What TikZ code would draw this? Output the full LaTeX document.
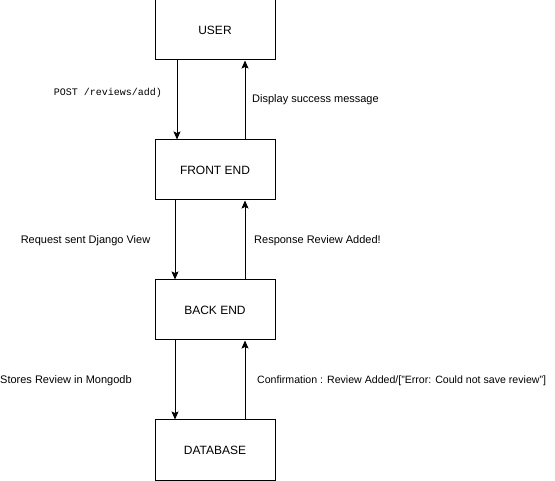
\documentclass[tikz,border=0pt]{standalone}
\usepackage{fontspec}
\setmainfont{Liberation Sans}
\setmonofont{Liberation Mono}
\usetikzlibrary{arrows.meta}

\tikzset{
	layer/.style={draw, line width=1pt, minimum width=120pt, minimum height=60pt, font=\fontsize{12}{14}\selectfont},
	flow/.style={line width=1pt, -{Stealth[length=8pt, width=7pt, inset=1.5pt]}},
	msg/.style={font=\fontsize{11}{13}\selectfont, inner sep=0pt}
}

\begin{document}
\begin{tikzpicture}[x=1pt, y=-1pt]
	\useasboundingbox (0, 0) rectangle (555, 481);
	\foreach \name/\txt [count=\i] in {user/USER, front/FRONT END, back/BACK END, db/DATABASE} {
		\node [layer] (\name) at (215, 30+140*\i-140) {\txt};
	}
	% requests going down, replies going up
	\draw [flow] ([xshift=-38pt]user.south) -- ([xshift=-38pt]front.north);
	\draw [flow] ([xshift=30pt]front.north) -- ([xshift=30pt]user.south);
	\draw [flow] ([xshift=-40pt]front.south) -- ([xshift=-40pt]back.north);
	\draw [flow] ([xshift=30pt]back.north) -- ([xshift=30pt]front.south);
	\draw [flow] ([xshift=-40pt]back.south) -- ([xshift=-40pt]db.north);
	\draw [flow] ([xshift=30pt]db.north) -- ([xshift=30pt]back.south);

	\node [msg, font=\ttfamily\fontsize{10}{12}\selectfont] (post) at (108, 93) {POST /reviews/add)};
	\node [msg, anchor=west] (display) at (252, 100) {Display success message};
	\node [msg] (request) at (85.5, 241) {Request sent Django View};
	\node [msg, anchor=west] (response) at (254, 241) {Response Review Added!};
	\node [msg, anchor=west] (stores) at (0, 381) {Stores Review in Mongodb};
	\node [msg, anchor=west, font=\fontsize{10.6}{13}\selectfont] (confirm) at (257, 381) {Confirmation : Review Added/["Error: Could not save review"]};
\end{tikzpicture}
\end{document}
